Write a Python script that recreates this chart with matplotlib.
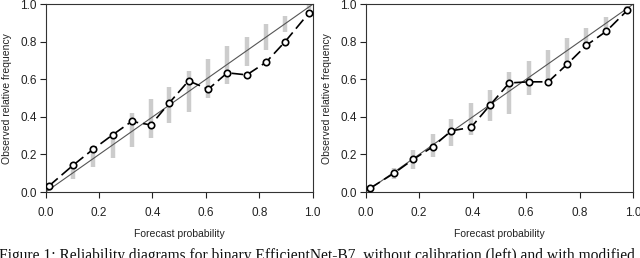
import numpy as np
import matplotlib.pyplot as plt

# bin centres (forecast probability) and observed relative frequencies
x_left = [0.012, 0.102, 0.177, 0.251, 0.322, 0.394, 0.463, 0.535, 0.609, 0.680, 0.753, 0.825, 0.896, 0.986]
y_left = [0.032, 0.142, 0.227, 0.305, 0.376, 0.357, 0.475, 0.592, 0.548, 0.635, 0.624, 0.691, 0.800, 0.954]
lo_left = [0.005, 0.069, 0.133, 0.180, 0.240, 0.290, 0.369, 0.424, 0.502, 0.578, 0.672, 0.759, 0.853, 0.975]
hi_left = [0.025, 0.135, 0.222, 0.300, 0.419, 0.495, 0.557, 0.644, 0.711, 0.778, 0.824, 0.894, 0.938, 0.995]

x_right = [0.016, 0.106, 0.178, 0.251, 0.320, 0.394, 0.464, 0.537, 0.610, 0.683, 0.754, 0.826, 0.900, 0.979]
y_right = [0.020, 0.100, 0.174, 0.241, 0.326, 0.344, 0.461, 0.581, 0.587, 0.587, 0.681, 0.782, 0.856, 0.968]
lo_right = [0.005, 0.069, 0.124, 0.188, 0.245, 0.305, 0.379, 0.413, 0.516, 0.596, 0.684, 0.770, 0.862, 0.965]
hi_right = [0.030, 0.126, 0.223, 0.309, 0.388, 0.472, 0.543, 0.640, 0.697, 0.759, 0.823, 0.874, 0.932, 0.992]

ticks = [0.0, 0.2, 0.4, 0.6, 0.8, 1.0]
tick_labels = ["0.0", "0.2", "0.4", "0.6", "0.8", "1.0"]

plt.rcParams['font.family'] = ['Liberation Sans', 'DejaVu Sans']

fig = plt.figure(figsize=(6.4, 2.58), dpi=100)
ax1 = fig.add_axes([0.0714, 0.2558, 0.4172, 0.7275])
ax2 = fig.add_axes([0.5714, 0.2558, 0.4176, 0.7275])


def reliability(ax, x, y, lo, hi):
    ax.vlines(x, lo, hi, color="#cccccc", linewidth=3.2, zorder=1)
    ax.plot([0, 1], [0, 1], color="#555555", linewidth=0.8, zorder=2)
    ax.plot(x, y, color="black", linewidth=1.2, dashes=(7, 3), zorder=3)
    ax.plot(x, y, linestyle="none", marker="o", markersize=4.6,
            markerfacecolor="white", markeredgecolor="black", markeredgewidth=1.2, zorder=4)
    ax.set_xlim(0, 1)
    ax.set_ylim(0, 1)
    ax.set_xticks(ticks)
    ax.set_xticklabels(tick_labels)
    ax.set_yticks(ticks)
    ax.set_yticklabels(tick_labels)
    ax.tick_params(direction="out", length=4.5, width=0.8, labelsize=8.5,
                   colors="#222222", pad=2)
    ax.tick_params(axis="x", pad=6)
    for s in ax.spines.values():
        s.set_linewidth(0.8)
        s.set_color("#333333")
    ax.set_xlabel("Forecast probability", fontsize=7.5, color="#222222")
    ax.set_ylabel("Observed relative frequency", fontsize=7.5, color="#222222")
    ax.xaxis.set_label_coords(0.5, -0.195)
    ax.yaxis.set_label_coords(-0.127, 0.5)


reliability(ax1, x_left, y_left, lo_left, hi_left)
reliability(ax2, x_right, y_right, lo_right, hi_right)

fig.text(-0.002, -0.008, "Figure 1: Reliability diagrams for binary EfficientNet-B7, without calibration (left) and with modified",
         family=["Liberation Serif", "DejaVu Serif"], fontsize=11.2, ha="left", va="baseline", color="#111111")

fig.savefig("out.png", dpi=100)
